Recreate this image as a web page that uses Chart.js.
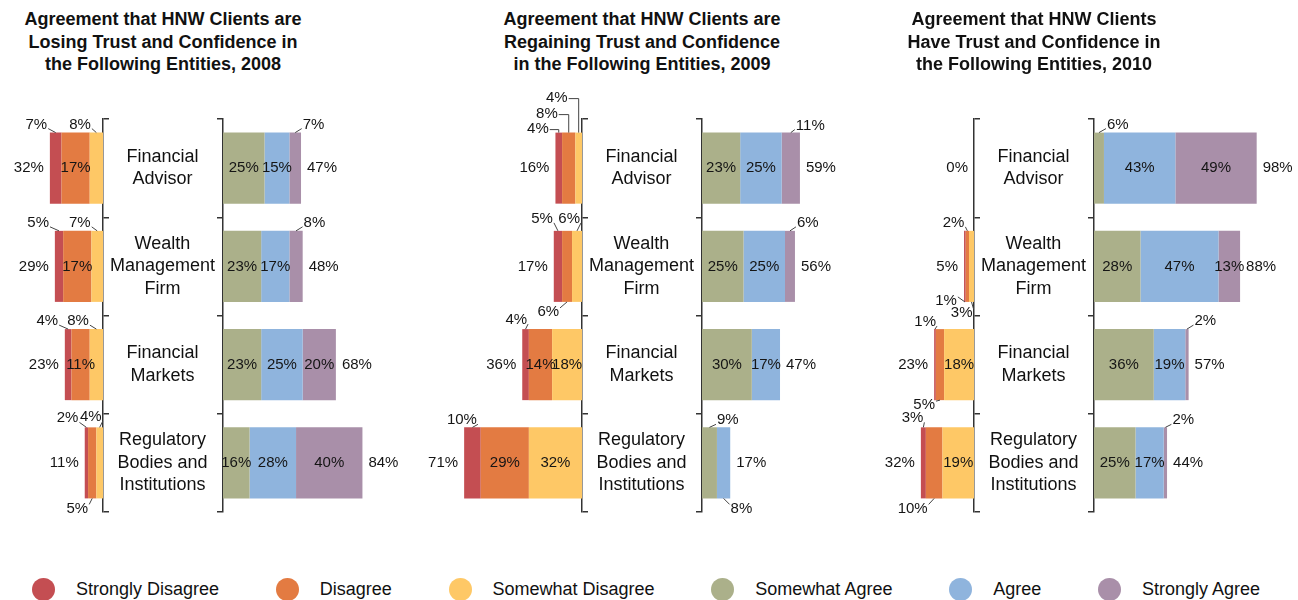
<!DOCTYPE html>
<html>
<head>
<meta charset="utf-8">
<script src="https://cdn.jsdelivr.net/npm/chart.js@4.4.1/dist/chart.umd.min.js"></script>
<style>
  body { margin: 0; width: 1298px; height: 600px; overflow: hidden; background: #fff; position: relative;
         font-family: "Liberation Sans", Arial, sans-serif; color: #111; }
  canvas { position: absolute; }
  .title { position: absolute; top: 8px; width: 360px; text-align: center; font-weight: bold;
           font-size: 18px; line-height: 22.5px; }
  #legend { position: absolute; left: 32px; top: 577px; width: 1228px; display: flex; justify-content: space-between; }
  .item { display: flex; align-items: center; height: 24px; font-size: 18px; line-height: 24px; }
  .dot { width: 23px; height: 23px; border-radius: 50%; margin-right: 21px; }
</style>
</head>
<body>
<div id="legend"></div>
<script>
const entities = [["Financial", "Advisor"], ["Wealth", "Management", "Firm"], ["Financial", "Markets"], ["Regulatory", "Bodies and", "Institutions"]];
const seriesNames = ["Strongly Disagree", "Disagree", "Somewhat Disagree", "Somewhat Agree", "Agree", "Strongly Agree"];
const seriesColors = ["#c44e52", "#e37b42", "#fec866", "#abb08a", "#8fb4dd", "#a98fa9"];

// 2008 - losing trust
const stronglyDisagree2008 = [7, 5, 4, 2];
const disagree2008 = [17, 17, 11, 5];
const somewhatDisagree2008 = [8, 7, 8, 4];
const somewhatAgree2008 = [25, 23, 23, 16];
const agree2008 = [15, 17, 25, 28];
const stronglyAgree2008 = [7, 8, 20, 40];
const disagreeTotal2008 = [32, 29, 23, 11];
const agreeTotal2008 = [47, 48, 68, 84];

// 2009 - regaining trust
const stronglyDisagree2009 = [4, 5, 4, 10];
const disagree2009 = [8, 6, 14, 29];
const somewhatDisagree2009 = [4, 6, 18, 32];
const somewhatAgree2009 = [23, 25, 30, 9];
const agree2009 = [25, 25, 17, 8];
const stronglyAgree2009 = [11, 6, 0, 0];
const disagreeTotal2009 = [16, 17, 36, 71];
const agreeTotal2009 = [59, 56, 47, 17];

// 2010 - have trust
const stronglyDisagree2010 = [0, 1, 1, 3];
const disagree2010 = [0, 2, 5, 10];
const somewhatDisagree2010 = [0, 3, 18, 19];
const somewhatAgree2010 = [6, 28, 36, 25];
const agree2010 = [43, 47, 19, 17];
const stronglyAgree2010 = [49, 13, 2, 2];
const disagreeTotal2010 = [0, 5, 23, 32];
const agreeTotal2010 = [98, 88, 57, 44];

const titles = [
    ["Agreement that HNW Clients are", "Losing Trust and Confidence in", "the Following Entities, 2008"],
    ["Agreement that HNW Clients are", "Regaining Trust and Confidence", "in the Following Entities, 2009"],
    ["Agreement that HNW Clients", "Have Trust and Confidence in", "the Following Entities, 2010"]
];

// label placement for small segments: [entity, series, t(op)/b(ottom)/e(lbow), text x offset, text y offset]
const callouts2008L = [[0, "sd", "t", -8.5, -8], [0, "swd", "t", -5.5, -8], [1, "sd", "t", -10, -8], [1, "swd", "t", -6.5, -8],
    [2, "sd", "t", -10, -8], [2, "swd", "t", -7.5, -8], [3, "sd", "t", -8, -9], [3, "swd", "t", 2, -10], [3, "d", "b", -4, 10]];
const callouts2008R = [[0, "sa", "t", 7.5, -8], [1, "sa", "t", 7.5, -8]];
const callouts2009L = [[0, "sd", "e", -10, -4], [0, "d", "e", -11, -19], [0, "swd", "e", -11, -35],
    [1, "sd", "t", -5, -12], [1, "swd", "t", 3, -12], [1, "d", "b", -8, 10], [2, "sd", "t", 1.5, -9], [3, "sd", "t", 4.5, -7]];
const callouts2009R = [[0, "sa", "t", 5, -7], [1, "sa", "t", 7, -8], [3, "swa", "t", 7.5, -7], [3, "a", "b", 7, 10]];
const callouts2010L = [[1, "d", "t", -3, -8], [1, "sd", "b", -8, -1], [1, "swd", "b", 1, 11], [2, "sd", "t", 1, -7],
    [2, "d", "b", -5, 5], [3, "sd", "t", 0, -9], [3, "d", "b", -6.5, 10]];
const callouts2010R = [[0, "swa", "t", 8, -8], [2, "sa", "t", 7.5, -8], [3, "sa", "t", 7, -7]];

const panels = [
    { title: titles[0], base: 103, sd: stronglyDisagree2008, d: disagree2008, swd: somewhatDisagree2008,
      swa: somewhatAgree2008, a: agree2008, sa: stronglyAgree2008, disTotal: disagreeTotal2008, agrTotal: agreeTotal2008,
      callL: callouts2008L, callR: callouts2008R },
    { title: titles[1], base: 582, sd: stronglyDisagree2009, d: disagree2009, swd: somewhatDisagree2009,
      swa: somewhatAgree2009, a: agree2009, sa: stronglyAgree2009, disTotal: disagreeTotal2009, agrTotal: agreeTotal2009,
      callL: callouts2009L, callR: callouts2009R },
    { title: titles[2], base: 974, sd: stronglyDisagree2010, d: disagree2010, swd: somewhatDisagree2010,
      swa: somewhatAgree2010, a: agree2010, sa: stronglyAgree2010, disTotal: disagreeTotal2010, agrTotal: agreeTotal2010,
      callL: callouts2010L, callR: callouts2010R }
];

Chart.defaults.font.family = '"Liberation Sans", Arial, sans-serif';

function labelPlugin(side, totals, callouts) {
    const s = side === "left" ? -1 : 1;
    return {
        id: "segLabels",
        afterDatasetsDraw(chart) {
            const ctx = chart.ctx;
            const metas = chart.data.datasets.map((ds, j) => chart.getDatasetMeta(j));
            ctx.save();
            ctx.font = '15px "Liberation Sans", Arial, sans-serif';
            ctx.fillStyle = "#151515";
            ctx.strokeStyle = "#444";
            ctx.lineWidth = 1;
            ctx.textBaseline = "middle";
            totals.forEach((t, i) => {
                let edge = metas[0].data[i].base;
                metas.forEach(m => {
                    const x = m.data[i].x;
                    edge = s < 0 ? Math.min(edge, x) : Math.max(edge, x);
                });
                ctx.textAlign = s < 0 ? "right" : "left";
                ctx.fillText(t + "%", edge + s * 6, metas[0].data[i].y);

                chart.data.datasets.forEach((ds, j) => {
                    const v = ds.data[i];
                    if (!v) return;
                    const bar = metas[j].data[i];
                    const cx = (bar.x + bar.base) / 2;
                    const co = callouts.find(c => c[0] === i && c[1] === ds.key);
                    if (!co) {
                        ctx.textAlign = "center";
                        ctx.fillText(v + "%", cx, bar.y);
                        return;
                    }
                    const where = co[2];
                    const top = bar.y - bar.height / 2;
                    const bottom = bar.y + bar.height / 2;
                    const edgeY = where === "b" ? bottom : top;
                    const ty = edgeY + co[4];
                    const tx = cx + co[3];
                    ctx.textAlign = s < 0 ? "right" : "left";
                    ctx.fillText(v + "%", tx, ty);
                    ctx.beginPath();
                    if (where === "e") {
                        ctx.moveTo(tx + 1, ty + 1);
                        ctx.lineTo(cx, ty + 1);
                        ctx.lineTo(cx, top);
                    } else {
                        ctx.moveTo(cx, edgeY);
                        ctx.lineTo(tx - s, where === "b" ? ty - 4 : ty + 4);
                    }
                    ctx.stroke();
                });
            });
            ctx.restore();
        }
    };
}

function sideChart(x, w, side, datasets, totals, callouts) {
    const left = side === "left";
    const canvas = document.createElement("canvas");
    canvas.width = w;
    canvas.height = 500;
    canvas.style.left = x + "px";
    canvas.style.top = "60px";
    document.body.appendChild(canvas);
    return new Chart(canvas, {
        type: "bar",
        data: { labels: entities, datasets: datasets },
        options: {
            indexAxis: "y",
            responsive: false,
            animation: false,
            events: [],
            layout: { padding: { left: left ? 34 : 0, right: left ? 0 : 40, top: 59, bottom: 48 } },
            plugins: { legend: { display: false }, tooltip: { enabled: false } },
            datasets: { bar: { categoryPercentage: 1, barPercentage: 0.723, borderWidth: 0 } },
            scales: {
                x: { display: false, stacked: true, min: 0, max: 100, reverse: left },
                y: {
                    position: left ? "right" : "left",
                    stacked: true,
                    afterFit: sc => { sc.width = left ? 8 : 120; },
                    border: { display: true, color: "#333", width: 1.5 },
                    grid: { drawOnChartArea: false, tickLength: 6, color: "#333", lineWidth: 1.5 },
                    ticks: { display: !left, crossAlign: "center", padding: 2, color: "#111",
                             font: { size: 18, lineHeight: 1.25 } }
                }
            }
        },
        plugins: [labelPlugin(side, totals, callouts)]
    });
}

function set(key, label, data, color) {
    return { key: key, label: label, data: data, backgroundColor: color };
}

panels.forEach(p => {
    const t = document.createElement("div");
    t.className = "title";
    t.style.left = (p.base + 60 - 180) + "px";
    t.innerHTML = p.title.join("<br>");
    document.body.appendChild(t);

    sideChart(p.base - 200, 208, "left", [
        set("swd", seriesNames[2], p.swd, seriesColors[2]),
        set("d", seriesNames[1], p.d, seriesColors[1]),
        set("sd", seriesNames[0], p.sd, seriesColors[0])
    ], p.disTotal, p.callL);

    sideChart(p.base, 326, "right", [
        set("swa", seriesNames[3], p.swa, seriesColors[3]),
        set("a", seriesNames[4], p.a, seriesColors[4]),
        set("sa", seriesNames[5], p.sa, seriesColors[5])
    ], p.agrTotal, p.callR);
});

const legend = document.getElementById("legend");
seriesNames.forEach((name, i) => {
    const item = document.createElement("div");
    item.className = "item";
    item.innerHTML = '<span class="dot" style="background:' + seriesColors[i] + '"></span>' + name;
    legend.appendChild(item);
});
</script>
</body>
</html>
